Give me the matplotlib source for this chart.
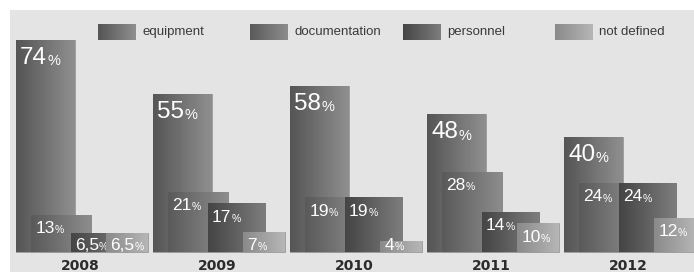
import matplotlib
matplotlib.use("Agg")
import matplotlib.pyplot as plt
import numpy as np
from matplotlib.colors import LinearSegmentedColormap
from matplotlib.patches import Rectangle

YEARS = ["2008", "2009", "2010", "2011", "2012"]
SERIES = ["equipment", "documentation", "personnel", "not defined"]
equipment = [74, 55, 58, 48, 40]
documentation = [13, 21, 19, 28, 24]
personnel = [6.5, 17, 19, 14, 24]
not_defined = [6.5, 7, 4, 10, 12]

# placement of each series inside one year group (group width = 1)
OFFSETS = [0.0, 0.11, 0.40, 0.66]
WIDTHS = [0.43, 0.44, 0.42, 0.30]
GRADIENTS = [
    ("#555555", "#8f8f8f"),
    ("#5a5a5a", "#8d8d8d"),
    ("#454545", "#7d7d7d"),
    ("#8a8a8a", "#b6b6b6"),
]
BG = "#e4e4e4"
NARROW = ["Liberation Sans", "DejaVu Sans"]

W, H = 694, 272
PX_PER_PCT = 2.87
BASE_PX = 20


def fmt(v):
    return f"{v:g}".replace(".", ",")


def gradient_cmap(c0, c1):
    return LinearSegmentedColormap.from_list("g", [c0, c1])


fig = plt.figure(figsize=(W / 100, H / 100), dpi=100)
fig.patch.set_facecolor("white")
fig.patches.append(Rectangle((10 / W, 0), 1, (H - 10) / H, transform=fig.transFigure,
                             facecolor=BG, edgecolor="none", zorder=-10))

ax = fig.add_axes([0, 0, 1, 1])
ax.set_facecolor("none")
ax.axis("off")

ramp = np.linspace(0, 1, 64).reshape(1, -1)
groups = np.arange(len(YEARS))
data = [equipment, documentation, personnel, not_defined]

for j, values in enumerate(data):
    cmap = gradient_cmap(*GRADIENTS[j])
    bars = ax.bar(groups + OFFSETS[j], values, width=WIDTHS[j], align="edge",
                  color=GRADIENTS[j][1], edgecolor="#9a9a9a", linewidth=0.6,
                  zorder=2 + j * 2)
    for rect, v in zip(bars, values):
        x0, w = rect.get_x(), rect.get_width()
        im = ax.imshow(ramp, cmap=cmap, aspect="auto", extent=[x0, x0 + w, 0, v],
                       zorder=2 + j * 2 + 0.5, interpolation="bilinear")
        im.set_clip_path(rect)

        big = j == 0
        size = 17.5 if big else 12.5
        drop = 8.4 if big else 6.4
        y = max(v - drop, 0.6)
        t = ax.annotate(fmt(v), (x0, y), xytext=(3, 0), textcoords="offset points",
                        ha="left", va="baseline", color="white", fontsize=size,
                        family=NARROW, zorder=3 + j * 2)
        ax.annotate("%", (1, 0), xycoords=t, xytext=(0, 0.6), textcoords="offset points",
                    ha="left", va="bottom", color="white", fontsize=size * 0.6,
                    family=NARROW, zorder=3 + j * 2)

for i, year in enumerate(YEARS):
    ax.annotate(year, (i + 0.47, 0), xytext=(0, -10), textcoords="offset points",
                ha="center", va="center", fontsize=10, fontweight="bold",
                color="#2b2b2b")

ax.set_xlim(-16 / 137, (W - 16) / 137)
ax.set_ylim(-BASE_PX / PX_PER_PCT, (H - BASE_PX) / PX_PER_PCT)

# legend strip
lax = fig.add_axes([98 / W, (H - 40) / H, 579 / W, 16 / H])
lax.axis("off")
for j, name in enumerate(SERIES):
    lax.imshow(ramp, cmap=gradient_cmap(*GRADIENTS[j]), aspect="auto",
               extent=[j, j + 0.243, 0, 1], interpolation="bilinear")
    lax.text(j + 0.29, 0.5, name, ha="left", va="center", fontsize=9.5,
             family=NARROW, color="#3a3a3a")
lax.set_xlim(0, 3.8)
lax.set_ylim(0, 1)

fig.savefig("out.png", dpi=100)
